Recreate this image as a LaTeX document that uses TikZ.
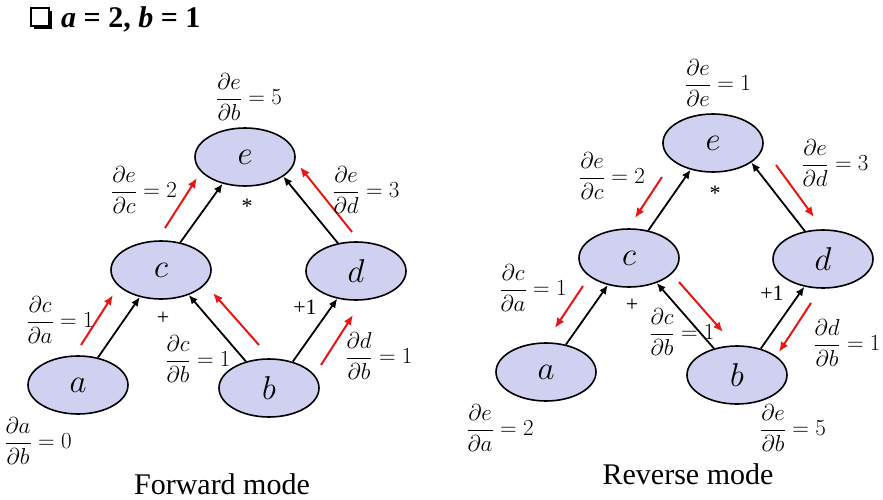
\RequirePackage{fix-cm}
\documentclass[tikz,border=0pt]{standalone}
\usepackage{amsmath}
\usepackage{fontspec}
\setmainfont{Liberation Serif}
\usetikzlibrary{shapes.geometric,arrows.meta}
\definecolor{nodefill}{RGB}{208,208,240}
\definecolor{gradred}{RGB}{235,20,20}
\tikzset{
  var/.style={ellipse, draw=black, line width=1.6pt, fill=nodefill, minimum width=100pt, minimum height=58pt, inner sep=0pt, font=\fontsize{33}{36}\selectfont},
  edge/.style={line width=1.8pt, -{Latex[length=9pt,width=8pt]}},
  grad/.style={line width=2pt, draw=gradred, -{Latex[length=10pt,width=8.5pt]}},
  lab/.style={inner sep=0pt, font=\fontsize{23}{27}\selectfont},
  op/.style={inner sep=0pt, font=\fontsize{22}{26}\selectfont},
  capt/.style={inner sep=0pt, font=\fontsize{30}{34}\selectfont},
}
\begin{document}
\begin{tikzpicture}[x=1pt,y=-1pt]
\useasboundingbox (0,0) rectangle (883,500);
% title
\fill[black] (34,11) rectangle (52,29);
\draw[line width=1.2pt, fill=white] (31,8) rectangle (49,26);
\node[anchor=west, inner sep=0pt, font=\fontsize{30}{34}\selectfont\bfseries] (title) at (61,19) {\textit{a} = 2, \textit{b} = 1};

% ---------- forward mode ----------
\node[var] (a) at (78,385) {$a$};
\node[var] (b) at (269,388) {$b$};
\node[var] (c) at (161,270) {$c$};
\node[var] (d) at (356,271) {$d$};
\node[var] (e) at (245,157) {$e$};
\draw[edge] (a.54) -- (c.232);
\draw[edge] (c.55) -- (e.230);
\draw[edge] (b.131) -- (c.318);
\draw[edge] (b.48) -- (d.236);
\draw[edge] (d.123) -- (e.333);
\coordinate (fa1) at (81,345); \coordinate (fa2) at (113,295);
\coordinate (fc1) at (165,228); \coordinate (fc2) at (197,178);
\coordinate (fb1) at (259,345); \coordinate (fb2) at (213,293);
\coordinate (fd1) at (321,365); \coordinate (fd2) at (353,315);
\coordinate (fe1) at (352,232); \coordinate (fe2) at (300,167);
\draw[grad] (fa1) -- (fa2);
\draw[grad] (fc1) -- (fc2);
\draw[grad] (fb1) -- (fb2);
\draw[grad] (fd1) -- (fd2);
\draw[grad] (fe1) -- (fe2);
\node[lab] (l1) at (249,97) {$\dfrac{\partial e}{\partial b} = 5$};
\node[lab] (l2) at (144,190) {$\dfrac{\partial e}{\partial c} = 2$};
\node[lab] (l3) at (366,190) {$\dfrac{\partial e}{\partial d} = 3$};
\node[lab] (l4) at (60,320) {$\dfrac{\partial c}{\partial a} = 1$};
\node[lab] (l5) at (198,359) {$\dfrac{\partial c}{\partial b} = 1$};
\node[lab] (l6) at (379,356) {$\dfrac{\partial d}{\partial b} = 1$};
\node[lab] (l7) at (38,441) {$\dfrac{\partial a}{\partial b} = 0$};
\node[op] (o1) at (247,206) {*};
\node[op] (o2) at (163,318) {+};
\node[op] (o3) at (305,307) {+1};
\node[capt] (cf) at (222,484) {Forward mode};

% ---------- reverse mode ----------
\node[var] (ra) at (546,372) {$a$};
\node[var] (rb) at (737,375) {$b$};
\node[var] (rc) at (629,258) {$c$};
\node[var] (rd) at (823,259) {$d$};
\node[var] (re) at (713,143) {$e$};
\draw[edge] (ra.54) -- (rc.232);
\draw[edge] (rc.55) -- (re.230);
\draw[edge] (rb.131) -- (rc.318);
\draw[edge] (rb.48) -- (rd.236);
\draw[edge] (rd.123) -- (re.333);
\coordinate (rc1) at (662,177); \coordinate (rc2) at (635,218);
\coordinate (rd1) at (776,165); \coordinate (rd2) at (814,217);
\coordinate (ra1) at (583,286); \coordinate (ra2) at (555,328);
\coordinate (rb1) at (679,282); \coordinate (rb2) at (723,332);
\coordinate (rbb1) at (811,303); \coordinate (rbb2) at (779,352);
\draw[grad] (rc1) -- (rc2);
\draw[grad] (rd1) -- (rd2);
\draw[grad] (ra1) -- (ra2);
\draw[grad] (rb1) -- (rb2);
\draw[grad] (rbb1) -- (rbb2);
\node[lab] (m1) at (718,83) {$\dfrac{\partial e}{\partial e} = 1$};
\node[lab] (m2) at (612,176) {$\dfrac{\partial e}{\partial c} = 2$};
\node[lab] (m3) at (835,163) {$\dfrac{\partial e}{\partial d} = 3$};
\node[lab] (m4) at (533,288) {$\dfrac{\partial c}{\partial a} = 1$};
\node[lab] (m5) at (682,332) {$\dfrac{\partial c}{\partial b} = 1$};
\node[lab] (m6) at (847,343) {$\dfrac{\partial d}{\partial b} = 1$};
\node[lab] (m7) at (500,428) {$\dfrac{\partial e}{\partial a} = 2$};
\node[lab] (m8) at (793,428) {$\dfrac{\partial e}{\partial b} = 5$};
\node[op] (p1) at (715,193) {*};
\node[op] (p2) at (632,305) {+};
\node[op] (p3) at (772,293) {+1};
\node[capt] (cr) at (688,474) {Reverse mode};
\end{tikzpicture}
\end{document}
